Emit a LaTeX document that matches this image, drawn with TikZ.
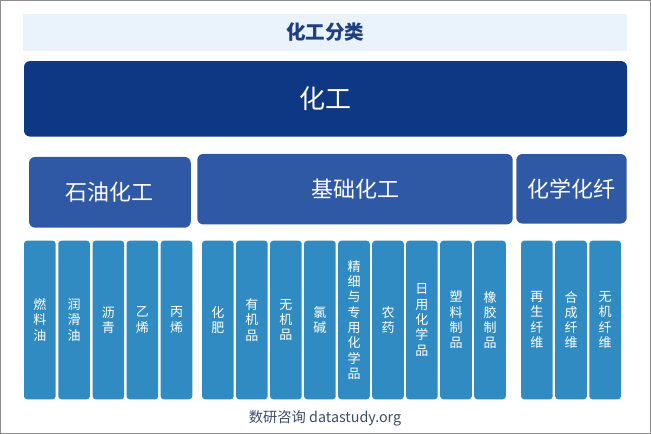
\documentclass[tikz,border=0pt]{standalone}
\usepackage{fontspec}
\newfontfamily\cjk{Noto Sans CJK SC}
\definecolor{bandbg}{HTML}{EAF2FC}
\definecolor{titlec}{HTML}{1E3F80}
\definecolor{mainc}{HTML}{0F3884}
\definecolor{midc}{HTML}{2F59A5}
\definecolor{colc}{HTML}{318BC3}
\definecolor{footc}{HTML}{3D4B6B}
\definecolor{framec}{HTML}{8C8C8C}
\tikzset{
  band/.style={fill=bandbg, draw=none, inner sep=0pt, minimum width=604pt, minimum height=36.5pt,
    font=\cjk\bfseries\fontsize{19.5}{22}\selectfont, text=titlec},
  mainbox/.style={fill=mainc, draw=none, rounded corners=6pt, inner sep=0pt,
    font=\cjk\fontsize{26}{30}\selectfont, text=white},
  midbox/.style={fill=midc, draw=none, rounded corners=6pt, inner sep=0pt,
    font=\cjk\fontsize{22}{26}\selectfont, text=white},
  colbox/.style={fill=colc, draw=none, rounded corners=3pt, inner sep=0pt,
    minimum width=31.6pt, minimum height=158.6pt, align=center,
    font=\cjk\fontsize{13}{15.3}\selectfont, text=white},
  foot/.style={font=\cjk\fontsize{14.3}{17}\selectfont, text=footc, inner sep=0pt}
}
\begin{document}
\begin{tikzpicture}[x=1pt,y=-1pt]
\useasboundingbox (0,0) rectangle (651,434);
\draw[framec, line width=1pt] (0.5,0.5) rectangle (650.5,433.5);
\node[band] (title) at (325,32.3) {化工分类};
\node[mainbox, minimum width=603pt, minimum height=75.5pt] (main) at (325.5,98.8) {化工};
\node[midbox, minimum width=161.7pt, minimum height=70.7pt] (petro) at (109.9,192.3) {石油化工};
\node[midbox, minimum width=315.4pt, minimum height=70.5pt] (basic) at (355,189.2) {基础化工};
\node[midbox, minimum width=110.4pt, minimum height=69.5pt] (fiber) at (571.5,188.8) {化学化纤};
% columns
\node[colbox] (c1) at (39.8,320) {燃\\料\\油};
\node[colbox] (c2) at (74.1,320) {润\\滑\\油};
\node[colbox] (c3) at (108.4,320) {沥\\青};
\node[colbox] (c4) at (142.4,320) {乙\\烯};
\node[colbox] (c5) at (176.5,320) {丙\\烯};
\node[colbox] (c6) at (217.9,320) {化\\肥};
\node[colbox] (c7) at (251.9,320) {有\\机\\品};
\node[colbox] (c8) at (285.9,320) {无\\机\\品};
\node[colbox] (c9) at (319.9,320) {氯\\碱};
\node[colbox] (c10) at (354,320) {精\\细\\与\\专\\用\\化\\学\\品};
\node[colbox] (c11) at (388,320) {农\\药};
\node[colbox] (c12) at (421.9,320) {日\\用\\化\\学\\品};
\node[colbox] (c13) at (456,320) {塑\\料\\制\\品};
\node[colbox] (c14) at (490,320) {橡\\胶\\制\\品};
\node[colbox] (c15) at (536.9,320) {再\\生\\纤\\维};
\node[colbox] (c16) at (571,320) {合\\成\\纤\\维};
\node[colbox] (c17) at (605.2,320) {无\\机\\纤\\维};
\node[foot] (footer) at (325,418) {数研咨询 datastudy.org};
\end{tikzpicture}
\end{document}
